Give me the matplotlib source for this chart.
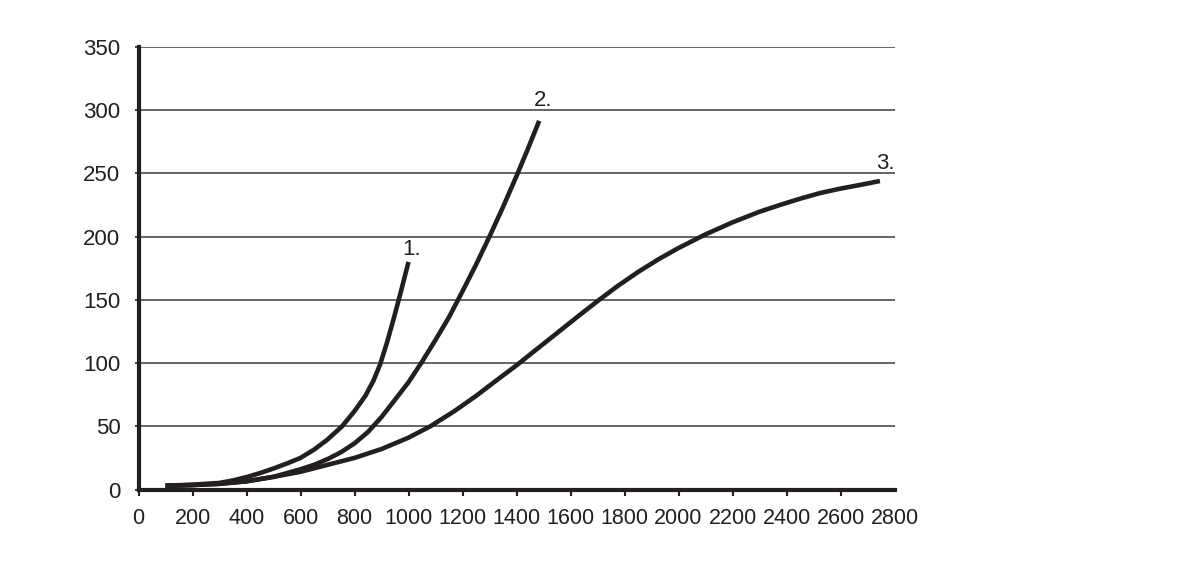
import matplotlib
matplotlib.use("Agg")
import matplotlib.pyplot as plt

plt.rcParams['font.family'] = ['Liberation Sans', 'DejaVu Sans']

# Data
curve1_x = [100, 200, 300, 350, 400, 450, 500, 550, 600, 650, 700, 754, 800, 840, 870, 895, 920, 945, 970, 1000]
curve1_y = [3, 3.8, 5.2, 7.2, 9.8, 13, 16.6, 20.6, 25, 31.5, 39.5, 50, 62, 74, 86, 99, 116, 135, 155, 180]

curve2_x = [100, 200, 300, 400, 500, 600, 650, 700, 750, 800, 850, 869, 900, 950, 1000, 1050, 1100, 1150, 1200, 1250, 1300, 1350, 1400, 1440, 1484]
curve2_y = [3, 3.5, 4.5, 6.5, 10, 16, 19.5, 24, 29.5, 36.5, 45.5, 50, 57.3, 71, 84.8, 101, 118.3, 136.3, 156.8, 177.8, 200.1, 223.4, 247.9, 268.3, 291.6]

curve3_x = [100, 200, 300, 400, 500, 600, 700, 800, 900, 1000, 1081, 1170, 1250, 1330, 1400, 1475, 1550, 1625, 1700, 1775, 1850, 1925, 2000, 2100, 2200, 2300, 2375, 2450, 2525, 2600, 2675, 2746]
curve3_y = [3, 3.5, 4.5, 6.5, 10, 14, 19.5, 25, 32, 41, 50, 62, 74, 87, 98.2, 111, 123.7, 136.5, 149, 161, 172, 182, 191, 201.8, 211.3, 219.7, 225, 230, 234.5, 238, 241, 244]

curve_labels = ["1.", "2.", "3."]
label_x = [1010, 1500, 2765]
label_y = [190, 308, 258]

x_ticks = list(range(0, 2801, 200))
y_ticks = list(range(0, 351, 50))

ink = "#231f20"

fig = plt.figure(figsize=(11.99, 5.62), dpi=100)
ax = fig.add_axes([138.5 / 1199, 72.5 / 562, 756 / 1199, 442.5 / 562])

for g in y_ticks[1:]:
    ax.axhline(g, color="#3a3a3a", lw=1.1, zorder=1)

for xs, ys in [(curve1_x, curve1_y), (curve2_x, curve2_y), (curve3_x, curve3_y)]:
    ax.plot(xs, ys, color=ink, lw=3.3, solid_capstyle="butt", solid_joinstyle="round", zorder=3)

for t, lx, ly in zip(curve_labels, label_x, label_y):
    ax.text(lx, ly, t, fontsize=16, color=ink, ha="center", va="center")

ax.set_xlim(0, 2800)
ax.set_ylim(0, 350)
ax.set_xticks(x_ticks)
ax.set_yticks(y_ticks)
ax.set_xticklabels([str(v) for v in x_ticks])
ax.set_yticklabels([str(v) for v in y_ticks])

for s in ["top", "right"]:
    ax.spines[s].set_visible(False)
ax.spines["left"].set_linewidth(3.0)
ax.spines["bottom"].set_linewidth(3.0)
ax.spines["left"].set_color(ink)
ax.spines["bottom"].set_color(ink)
ax.spines["left"].set_zorder(4)
ax.spines["bottom"].set_zorder(4)

ax.tick_params(axis="x", direction="out", length=4, width=1.5, color=ink, labelsize=15.5, pad=9, labelcolor=ink)
ax.tick_params(axis="y", direction="out", length=3, width=1.2, color=ink, labelsize=16, pad=10, labelcolor=ink)
# no tick mark at the far right end
ax.xaxis.get_major_ticks()[-1].tick1line.set_visible(False)

fig.savefig("out.png", dpi=100)
